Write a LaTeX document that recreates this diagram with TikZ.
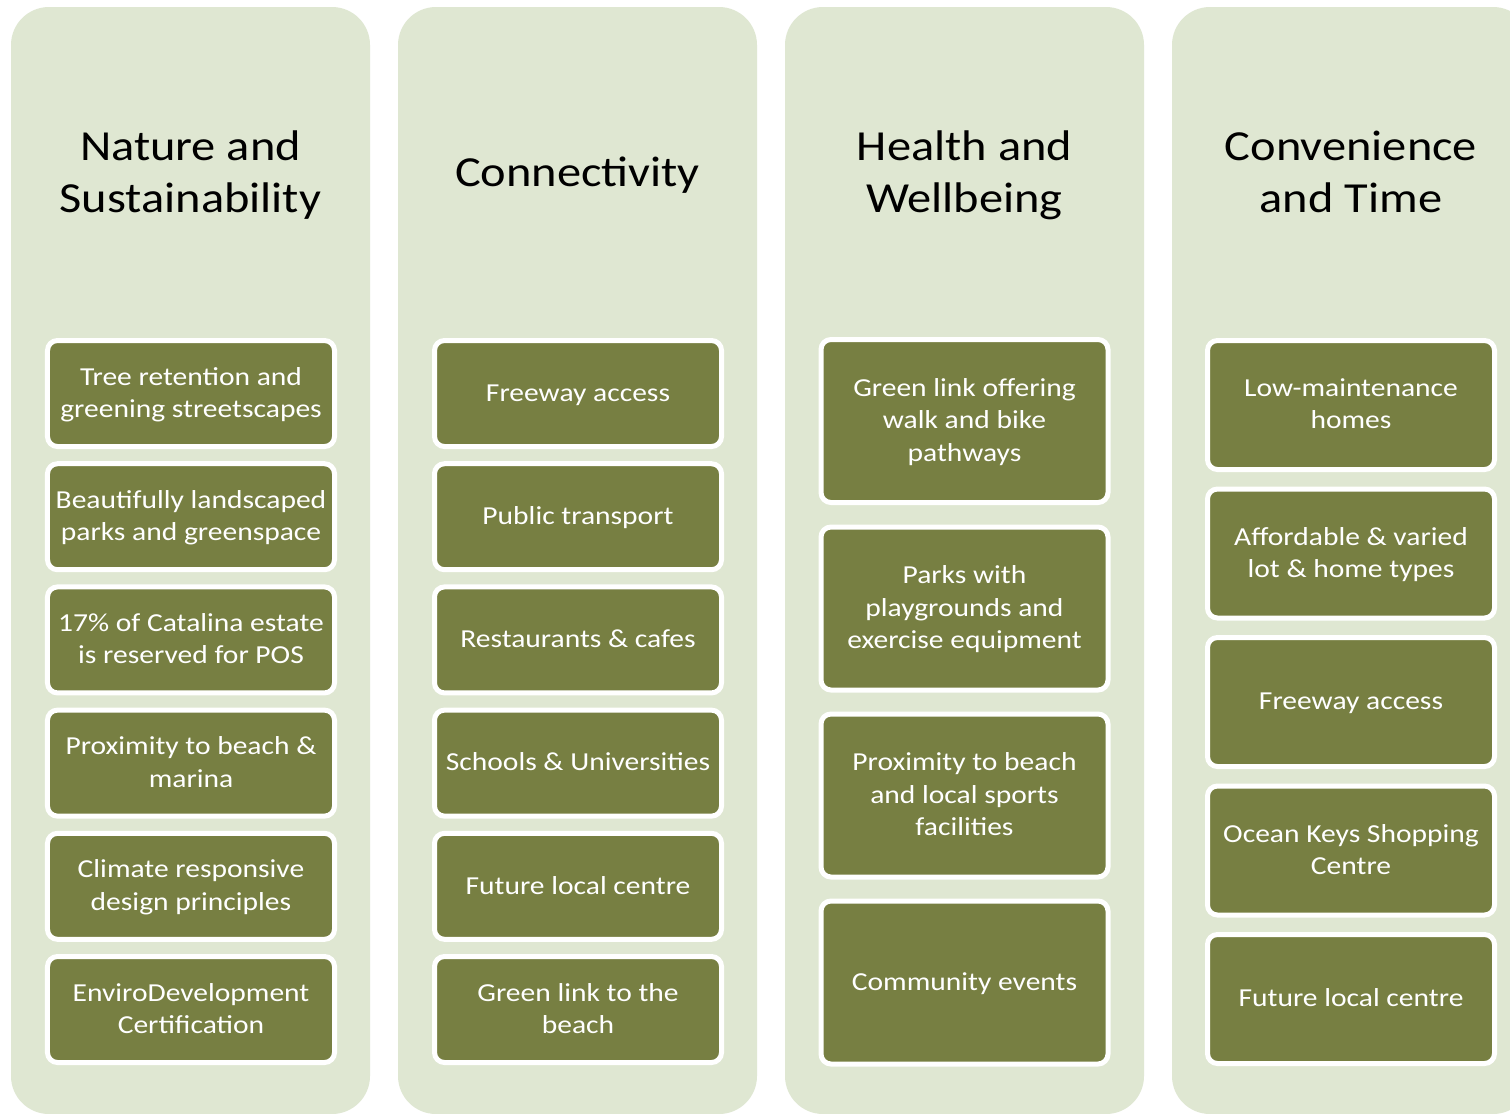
\documentclass[tikz,border=0pt]{standalone}
\usepackage{fontspec}
\setmainfont{Carlito}
\newfontfamily\titlefont{Carlito}[FakeStretch=1.13]
\newfontfamily\boxfont{Carlito}[FakeStretch=1.14]
\definecolor{colbg}{HTML}{DFE7D2}
\definecolor{olivebox}{HTML}{777F42}
\newcommand\boxtop{\rule{0pt}{24bp}}
\newcommand\boxbot{\rule[-8.4bp]{0pt}{0pt}}
\tikzset{
  column/.style={fill=colbg, rounded corners=38bp},
  title/.style={align=center, font=\titlefont\fontsize{43}{52}\selectfont, text=black},
  item/.style={fill=olivebox, draw=white, line width=5bp, rounded corners=10bp,
    minimum width=287bp, align=center, text=white, inner sep=0pt,
    font=\boxfont\fontsize{26}{32.5}\selectfont},
  itemA/.style={item, minimum height=106bp},
  itemC/.style={item, minimum height=163bp},
  itemD/.style={item, minimum height=129bp}
}
\begin{document}
\begin{tikzpicture}[x=1bp,y=-1bp]
\useasboundingbox (0,0) rectangle (1510,1113);
\clip (0,0) rectangle (1510,1113);
\fill[white] (0,0) rectangle (1510,1113);
% columns
\fill[column] (11,7) rectangle (370,1114);
\fill[column] (398,7) rectangle (757,1114);
\fill[column] (785,7) rectangle (1144,1114);
\fill[column] (1172,7) rectangle (1531,1114);
% titles
\node[title] (t1) at (190.5,176) {\strut Nature and\\Sustainability\strut};
\node[title] (t2) at (577.5,176) {\strut Connectivity\strut};
\node[title] (t3) at (964.5,176) {\strut Health and\\Wellbeing\strut};
\node[title] (t4) at (1351,176) {\strut Convenience\\and Time\strut};
% column 1
\node[itemA] (a1) at (191,393.5) {\boxtop Tree retention and\\greening streetscapes\boxbot};
\node[itemA] (a2) at (191,516.7) {\boxtop Beautifully landscaped\\parks and greenspace\boxbot};
\node[itemA] (a3) at (191,639.9) {\boxtop 17\% of Catalina estate\\is reserved for POS\boxbot};
\node[itemA] (a4) at (191,763.1) {\boxtop Proximity to beach \&\\marina\boxbot};
\node[itemA] (a5) at (191,886.3) {\boxtop Climate responsive\\design principles\boxbot};
\node[itemA] (a6) at (191,1009.5) {\boxtop EnviroDevelopment\\Certification\boxbot};
% column 2
\node[itemA] (b1) at (578,393.5) {\boxtop Freeway access\boxbot};
\node[itemA] (b2) at (578,516.7) {\boxtop Public transport\boxbot};
\node[itemA] (b3) at (578,639.9) {\boxtop Restaurants \& cafes\boxbot};
\node[itemA] (b4) at (578,763.1) {\boxtop Schools \& Universities\boxbot};
\node[itemA] (b5) at (578,886.3) {\boxtop Future local centre\boxbot};
\node[itemA] (b6) at (578,1009.5) {\boxtop Green link to the\\beach\boxbot};
% column 3
\node[itemC] (c1) at (964.5,421) {\boxtop Green link offering\\walk and bike\\pathways\boxbot};
\node[itemC] (c2) at (964.5,608.5) {\boxtop Parks with\\playgrounds and\\exercise equipment\boxbot};
\node[itemC] (c3) at (964.5,795.5) {\boxtop Proximity to beach\\and local sports\\facilities\boxbot};
\node[itemC] (c4) at (964.5,982.5) {\boxtop Community events\boxbot};
% column 4
\node[itemD] (d1) at (1351,405) {\boxtop Low-maintenance\\homes\boxbot};
\node[itemD] (d2) at (1351,553.5) {\boxtop Affordable \& varied\\lot \& home types\boxbot};
\node[itemD] (d3) at (1351,702) {\boxtop Freeway access\boxbot};
\node[itemD] (d4) at (1351,850.5) {\boxtop Ocean Keys Shopping\\Centre\boxbot};
\node[itemD] (d5) at (1351,999) {\boxtop Future local centre\boxbot};
\end{tikzpicture}
\end{document}
